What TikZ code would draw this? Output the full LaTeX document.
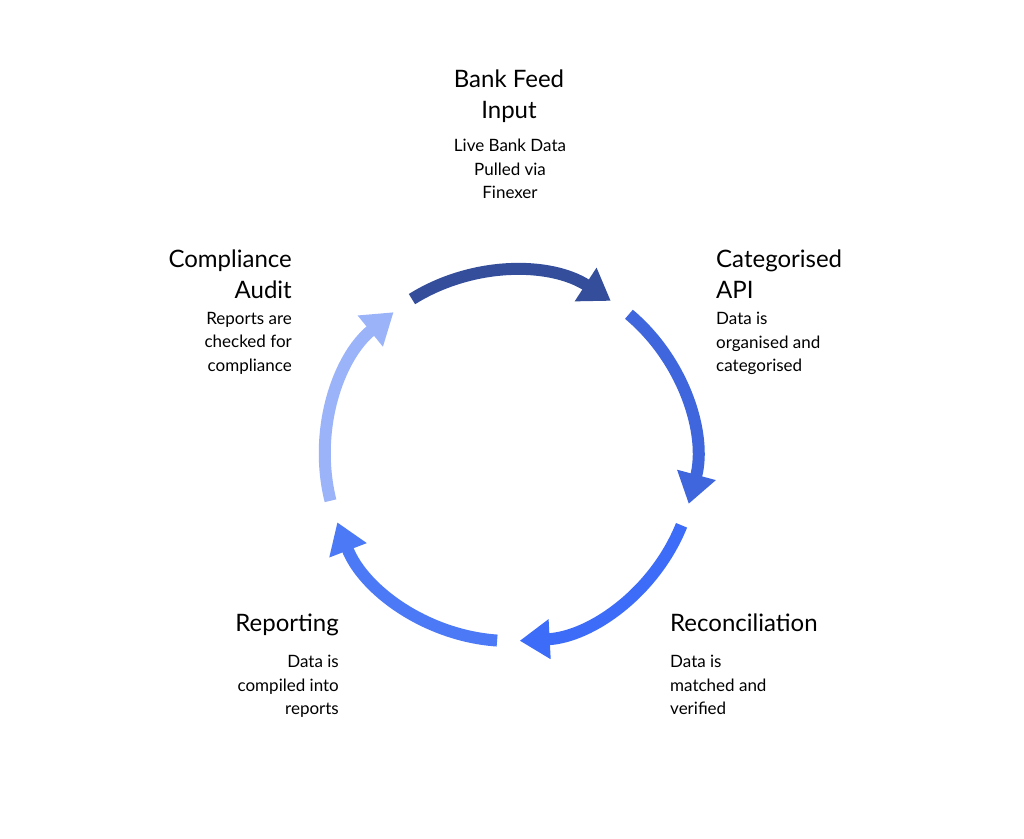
\documentclass[tikz,border=0pt]{standalone}
\usepackage{fontspec}
\setmainfont{Lato}
\usetikzlibrary{arrows.meta}
\definecolor{cA}{HTML}{344E9C}
\definecolor{cB}{HTML}{3F66DC}
\definecolor{cC}{HTML}{3D6DF8}
\definecolor{cD}{HTML}{4C7AF6}
\definecolor{cE}{HTML}{9BB3F9}
\begin{document}
\begin{tikzpicture}[x=1pt,y=1pt,
  seg/.style={line width=12pt,-{Triangle[length=30pt,width=38pt]}},
  ttl/.style={inner sep=0pt,font=\fontsize{24}{31}\selectfont},
  bdy/.style={inner sep=0pt,font=\fontsize{17}{23.5}\selectfont}]
\useasboundingbox (0,0) rectangle (1024,838);
\coordinate (c) at (510,382);
\draw[seg,cA] ([shift={(122:185)}]c) arc[start angle=122,end angle=57,radius=185];
\draw[seg,cB] ([shift={(50:185)}]c) arc[start angle=50,end angle=-15,radius=185];
\draw[seg,cC] ([shift={(-22:185)}]c) arc[start angle=-22,end angle=-87,radius=185];
\draw[seg,cD] ([shift={(-94:185)}]c) arc[start angle=-94,end angle=-159,radius=185];
\draw[seg,cE] ([shift={(194:185)}]c) arc[start angle=194,end angle=129,radius=185];
% top
\node[ttl,anchor=north,align=center] (t1) at (509,768) {Bank Feed\\Input};
\node[bdy,anchor=north,align=center] (b1) at (510,699) {Live Bank Data\\Pulled via\\Finexer};
% right top
\node[ttl,anchor=north west,align=left] (t2) at (716,588) {Categorised\\API};
\node[bdy,anchor=north west,align=left] (b2) at (716,526) {Data is\\organised and\\categorised};
% left top
\node[ttl,anchor=north east,align=right] (t5) at (292,588) {Compliance\\Audit};
\node[bdy,anchor=north east,align=right] (b5) at (292,526) {Reports are\\checked for\\compliance};
% right bottom
\node[ttl,anchor=north west,align=left] (t3) at (670,224) {Reconciliation};
\node[bdy,anchor=north west,align=left] (b3) at (670,183) {Data is\\matched and\\verified};
% left bottom
\node[ttl,anchor=north east,align=right] (t4) at (339,224) {Reporting};
\node[bdy,anchor=north east,align=right] (b4) at (339,183) {Data is\\compiled into\\reports};
\end{tikzpicture}
\end{document}
